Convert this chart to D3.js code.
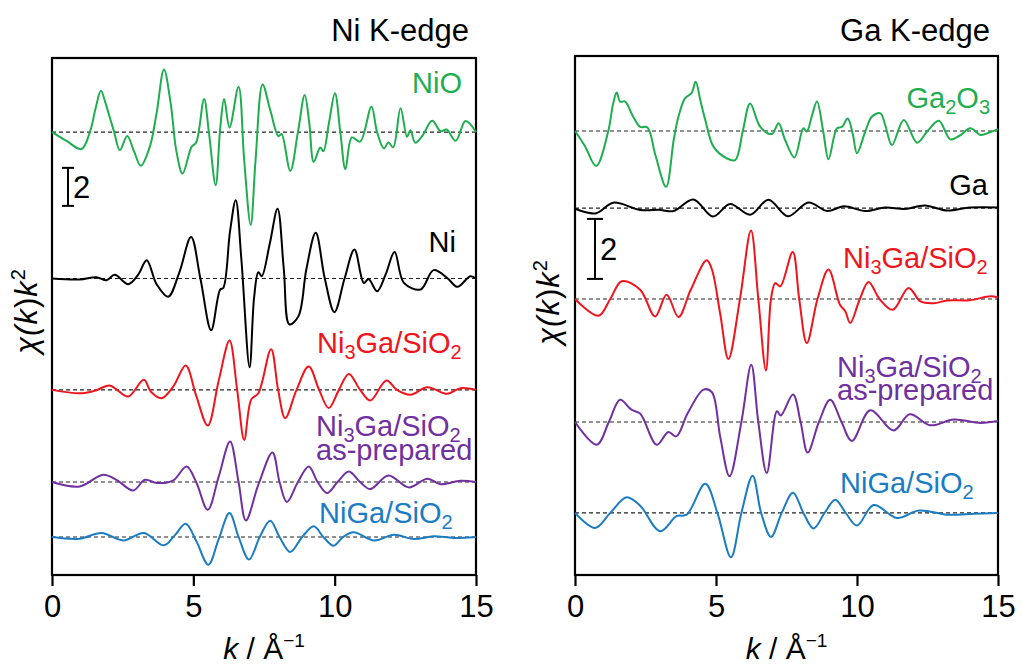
<!DOCTYPE html>
<html><head><meta charset="utf-8">
<script src="https://cdn.jsdelivr.net/npm/d3@7"></script>
<style>
html,body{margin:0;padding:0;background:#fff;}
text{font-family:"Liberation Sans",Arial,sans-serif;}
</style></head>
<body>
<svg id="chart" width="1023" height="666"></svg>
<script>
// ---------- data (k in Å^-1, value = χ(k)k², relative to each curve's baseline) ----------
const kTicks = [0, 5, 10, 15];

// Ni K-edge
const niNiO = [[0,0],[0.5,-0.45],[1.04,-0.89],[1.34,0],[1.55,1.3],[1.73,2.18],[1.9,1.5],[2.04,0.8],[2.2,0],[2.4,-0.95],[2.66,-0.21],[2.9,-1.0],[3.14,-1.77],[3.46,-0.77],[3.7,1.0],[3.96,3.3],[4.2,1.5],[4.4,-1.0],[4.62,-2.18],[4.94,-0.77],[5.1,-0.55],[5.38,1.74],[5.55,0],[5.79,-2.79],[5.95,0.2],[6.09,1.74],[6.28,0.25],[6.6,2.39],[6.8,-1.5],[7.03,-4.89],[7.2,-1.5],[7.45,2.51],[7.72,1.16],[8.01,-0.21],[8.12,-0.1],[8.43,-2.04],[8.7,0],[8.94,1.95],[9.1,0.5],[9.26,-1.56],[9.49,-0.81],[9.6,-1.0],[9.8,0.5],[10.01,2.04],[10.2,0],[10.38,-1.95],[10.61,-0.28],[10.9,-0.5],[11.3,1.33],[11.5,0],[11.74,-0.86],[11.9,-0.55],[12.07,-0.8],[12.33,1.25],[12.56,-0.24],[12.68,0.1],[12.85,-0.56],[13.1,-0.2],[13.45,0.6],[13.75,0.05],[13.96,0.14],[14.28,-0.46],[14.63,0.58],[15,0]];
const niNi = [[0,0],[0.98,-0.05],[1.57,0.07],[1.93,-0.09],[2.22,0.19],[2.7,-0.3],[3.05,0.2],[3.35,0.96],[3.7,-0.3],[4.11,-0.96],[4.5,0.3],[4.92,2.18],[5.25,0],[5.63,-2.72],[5.95,-0.58],[6.06,-0.5],[6.3,2.5],[6.5,4.12],[6.7,1],[6.99,-4.67],[7.15,-1],[7.3,0.33],[7.42,0.12],[7.7,1.8],[7.98,3.67],[8.2,0.5],[8.4,-2.42],[8.72,-1.98],[9.0,0.5],[9.33,2.4],[9.65,0.0],[9.99,-1.77],[10.35,0],[10.7,1.53],[11.03,-0.23],[11.2,-0.03],[11.5,-0.67],[11.8,0.2],[12.12,1.39],[12.45,-0.23],[13.04,-0.58],[13.5,0.44],[14.0,0.0],[14.34,-0.44],[14.8,0.12],[15,0]];
const niNi3Ga = [[0,0],[0.98,-0.18],[1.5,-0.05],[2.04,0.23],[2.3,0],[2.7,-0.35],[3.25,0.53],[3.5,-0.1],[3.88,-0.44],[4.3,0.2],[4.73,1.28],[5.1,-0.3],[5.51,-1.88],[5.9,0.5],[6.28,2.6],[6.55,0],[6.8,-2.63],[7.05,-0.5],[7.3,-0.18],[7.75,2.14],[8.0,0],[8.25,-1.49],[8.65,0],[9.08,1.23],[9.45,0],[9.79,-0.96],[10.15,0],[10.5,0.84],[10.9,0],[11.26,-0.56],[11.83,0.49],[12.2,0],[12.68,-0.26],[13.28,0.14],[13.98,-0.21],[14.45,0.09],[15,0]];
const niNi3GaAs = [[0,0],[0.98,-0.23],[1.81,0.39],[2.28,0.12],[2.87,-0.44],[3.29,0.12],[3.7,-0.05],[4.29,0.09],[4.76,0.82],[5.1,0],[5.51,-1.46],[5.9,0.3],[6.3,2.14],[6.6,0],[6.86,-2.02],[7.3,-0.14],[7.8,1.56],[8.05,0],[8.31,-1.05],[8.7,0],[9.08,0.82],[9.4,0],[9.73,-0.58],[10.1,0],[10.5,0.56],[10.9,0],[11.26,-0.37],[11.9,0.35],[12.62,-0.28],[13.28,0.18],[13.75,-0.11],[14.45,0.07],[15,0]];
const niNiGa = [[0,0],[0.98,-0.09],[1.75,0.21],[2.52,-0.18],[3.25,0.21],[3.96,-0.44],[4.35,0.1],[4.73,0.7],[5.1,-0.2],[5.53,-1.46],[5.9,-0.1],[6.28,1.26],[6.6,0],[6.97,-1.19],[7.35,0],[7.72,0.86],[8.05,0],[8.43,-0.79],[8.85,0],[9.26,0.56],[9.6,0],[9.96,-0.46],[10.3,0],[10.67,0.25],[11.4,-0.18],[12.1,0.12],[12.8,-0.11],[13.5,0.04],[14.2,-0.05],[15,0]];
const niOffsets = [23.3, 15.6, 9.74, 4.89, 2.0];

// Ga K-edge
const gaGa2O3 = [[0,0],[0.35,-0.5],[0.75,-1.17],[1.18,0],[1.35,0.9],[1.48,1.28],[1.6,0.98],[1.78,0.98],[2.05,0.5],[2.31,0.14],[2.57,0.12],[2.85,-0.8],[3.23,-1.86],[3.5,-0.3],[3.67,0.48],[3.9,1.09],[4.13,1.26],[4.28,1.64],[4.45,1.0],[4.62,0.37],[4.91,-0.52],[5.38,-0.91],[5.68,-0.97],[5.95,0],[6.21,0.92],[6.57,0.14],[6.98,-0.1],[7.22,0.26],[7.45,-0.3],[7.78,-0.88],[8.1,0.09],[8.22,-0.02],[8.4,0.5],[8.58,0.98],[8.8,0],[8.99,-0.94],[9.29,0.09],[9.47,0.14],[9.67,0.42],[9.85,-0.1],[10.0,-0.74],[10.3,0],[10.53,0.48],[10.83,0.59],[11.0,0.2],[11.24,-0.47],[11.66,0.37],[12.13,-0.39],[12.5,0.0],[12.9,0.34],[13.31,-0.28],[13.65,-0.15],[14.02,0.09],[14.38,-0.13],[14.7,-0.05],[15,0.06]];
const gaGa = [[0,-0.02],[0.75,-0.17],[1.36,0.18],[2.31,-0.06],[3.02,-0.06],[3.49,-0.1],[4.2,0.29],[4.89,-0.28],[5.5,0.14],[6.21,-0.22],[6.86,0.28],[7.55,-0.27],[8.28,0.19],[8.94,-0.1],[9.53,0.06],[10.3,-0.1],[11.0,0.02],[11.7,-0.03],[12.4,0.09],[13.2,-0.08],[14.0,0.02],[15,0.02]];
const gaNi3Ga = [[0,0],[0.83,-0.56],[1.25,0],[1.66,0.59],[2.31,0.31],[2.84,-0.58],[3.25,0.14],[3.67,-0.6],[4.1,0.3],[4.67,1.29],[4.85,1.0],[5.15,-0.5],[5.44,-2.0],[5.85,0],[6.24,2.28],[6.5,0],[6.77,-2.38],[6.95,0],[7.1,0.53],[7.28,0.42],[7.72,1.57],[7.95,0],[8.22,-1.47],[8.6,0],[8.99,0.98],[9.4,-0.2],[9.58,-0.4],[9.76,-0.8],[10.1,0],[10.41,0.57],[10.8,0],[11.27,-0.36],[11.83,0.37],[12.25,-0.08],[12.72,-0.14],[13.2,-0.05],[14.0,-0.04],[14.73,0.09],[15,0.05]];
const gaNi3GaAs = [[0,0],[0.77,-0.76],[1.2,0],[1.6,0.74],[2.0,0.41],[2.31,0.28],[2.9,-0.76],[3.31,-0.33],[3.59,-0.48],[4.0,0.3],[4.56,1.08],[4.85,1.0],[5.15,-0.5],[5.48,-1.81],[5.9,0],[6.25,1.91],[6.5,0],[6.8,-1.7],[7.16,0.36],[7.3,0.22],[7.73,0.92],[8.0,0],[8.25,-1.02],[8.65,0],[9.05,0.74],[9.45,0],[9.82,-0.63],[10.47,0.39],[11.3,-0.28],[11.87,0.26],[12.6,-0.11],[13.43,0.08],[14.38,-0.03],[15,0.03]];
const gaNiGa = [[0,0],[0.71,-0.5],[1.25,0],[1.83,0.52],[2.31,0.24],[3.02,-0.61],[3.6,-0.11],[3.96,-0.06],[4.62,0.97],[5.05,0],[5.53,-1.48],[5.9,0],[6.3,1.24],[6.6,0],[6.95,-0.8],[7.33,0],[7.73,0.67],[8.1,0],[8.46,-0.52],[8.85,0],[9.23,0.44],[9.6,0],[10.0,-0.42],[10.59,0.26],[11.42,-0.17],[12.2,0.08],[13.2,-0.06],[14.15,-0.03],[15,0]];
const gaOffsets = [14.8, 12.23, 9.2, 5.1, 2.07];

const seriesColors = ["#1fae4f", "#000000", "#f0141c", "#7030a0", "#1a7cc2"];
const niTitle = "Ni K-edge", gaTitle = "Ga K-edge";
const niYMax = 27.2, gaYMax = 17.3;
const niScaleBarBottom = 19.42, gaScaleBarBottom = 9.87, scaleBarSize = 2;

// ---------- drawing ----------
const svg = d3.select("#chart");
const FONT = 29, SUB = 20, SUBDY = 6;

function panel(cfg) {
  const g = svg.append("g");
  const x = d3.scaleLinear().domain([0, 15]).range([cfg.x0, cfg.x1]);
  const y = d3.scaleLinear().domain([0, cfg.yMax]).range([575, cfg.top]);

  // frame
  g.append("rect").attr("x", cfg.x0).attr("y", cfg.top)
    .attr("width", cfg.x1 - cfg.x0).attr("height", 575 - cfg.top)
    .attr("fill", "none").attr("stroke", "#000").attr("stroke-width", 2.2);

  // baselines
  cfg.offsets.forEach(o => {
    g.append("line").attr("x1", x(0)).attr("x2", x(15)).attr("y1", y(o)).attr("y2", y(o))
      .attr("stroke", "#222").attr("stroke-width", 1.1).attr("stroke-dasharray", "4,3");
  });

  // curves
  const line = d3.line().curve(d3.curveCatmullRom.alpha(0.5));
  cfg.series.forEach((s, i) => {
    const o = cfg.offsets[i];
    g.append("path")
      .attr("d", line(s.map(d => [x(d[0]), y(d[1] + o)])))
      .attr("fill", "none").attr("stroke", seriesColors[i]).attr("stroke-width", 2)
      .attr("stroke-linejoin", "round");
  });

  // x axis
  const ax = g.append("g").attr("transform", "translate(0,575)")
    .call(d3.axisBottom(x).tickValues(kTicks).tickFormat(d3.format("d")).tickSize(11).tickPadding(9));
  ax.select(".domain").attr("stroke-width", 2.2).attr("d", `M${cfg.x0},0H${cfg.x1}`);
  ax.selectAll(".tick line").attr("stroke-width", 2.2);
  ax.selectAll(".tick text").attr("font-size", 31).attr("fill", "#000")
    .attr("font-family", "Liberation Sans, Arial, sans-serif");

  // x label
  const xl = g.append("text").attr("x", (cfg.x0 + cfg.x1) / 2).attr("y", 659)
    .attr("text-anchor", "middle").attr("font-size", 30);
  xl.append("tspan").attr("font-style", "italic").text("k");
  xl.append("tspan").text(" / Å");
  xl.append("tspan").attr("font-size", 19).attr("dy", -12).text("\u22121");

  // y label
  const yl = g.append("text").attr("transform", `translate(${cfg.ylx},${cfg.yly}) rotate(-90)`)
    .attr("text-anchor", "middle").attr("font-size", 31).attr("letter-spacing", 1);
  yl.append("tspan").attr("font-style", "italic").text("\u03C7(");
  yl.append("tspan").attr("font-style", "italic").text("k");
  yl.append("tspan").text(")");
  yl.append("tspan").attr("font-style", "italic").text("k");
  yl.append("tspan").attr("font-size", 20).attr("dy", -12).text("2");

  // title
  g.append("text").attr("x", cfg.titleX).attr("y", 41).attr("text-anchor", "end")
    .attr("font-size", 31).text(cfg.title);

  // scale bar
  const sbx = cfg.sbX, yb = y(cfg.sbBottom), yt = y(cfg.sbBottom + scaleBarSize);
  const sb = g.append("g").attr("stroke", "#000").attr("stroke-width", 2);
  sb.append("line").attr("x1", sbx).attr("x2", sbx).attr("y1", yt).attr("y2", yb);
  sb.append("line").attr("x1", sbx - cfg.sbCap).attr("x2", sbx + cfg.sbCap).attr("y1", yt).attr("y2", yt);
  sb.append("line").attr("x1", sbx - cfg.sbCap).attr("x2", sbx + cfg.sbCap).attr("y1", yb).attr("y2", yb);
  g.append("text").attr("x", sbx + 5).attr("y", (yt + yb) / 2 + 11).attr("font-size", 31).text("2");

  // curve labels (one text element per label; lines as tspans)
  cfg.labels.forEach(L => {
    const t = g.append("text").attr("x", L.x).attr("y", L.y).attr("fill", seriesColors[L.c])
      .attr("font-size", FONT).attr("text-anchor", L.anchor || "start");
    L.lines.forEach((parts, li) => {
      let shifted = false, first = true;
      parts.forEach(p => {
        let ts;
        if (typeof p === "string") {
          ts = t.append("tspan").text(p);
          let dy = 0;
          if (shifted) { dy -= SUBDY; shifted = false; }
          if (first && li > 0) { ts.attr("x", L.x); dy += L.lineGap; }
          if (dy) ts.attr("dy", dy);
        } else {
          ts = t.append("tspan").attr("font-size", SUB).attr("dy", SUBDY).text(p.sub);
          shifted = true;
        }
        first = false;
      });
      if (shifted && li < L.lines.length - 1) L.lineGap -= SUBDY;
    });
  });
}

panel({
  x0: 52, x1: 476, top: 58, yMax: niYMax, offsets: niOffsets,
  series: [niNiO, niNi, niNi3Ga, niNi3GaAs, niNiGa],
  title: niTitle, titleX: 469, ylx: 37, yly: 311,
  sbX: 68, sbCap: 6, sbBottom: niScaleBarBottom,
  labels: [
    {c:0, x:462, y:93, anchor:"end", lines:[["NiO"]]},
    {c:1, x:456, y:252, anchor:"end", lines:[["Ni"]]},
    {c:2, x:317, y:353, lines:[["Ni",{sub:"3"},"Ga/SiO",{sub:"2"}]]},
    {c:3, x:316, y:436, lineGap:24, lines:[["Ni",{sub:"3"},"Ga/SiO",{sub:"2"}],["as-prepared"]]},
    {c:4, x:319, y:523, lines:[["NiGa/SiO",{sub:"2"}]]}
  ]
});

panel({
  x0: 575, x1: 998, top: 56, yMax: gaYMax, offsets: gaOffsets,
  series: [gaGa2O3, gaGa, gaNi3Ga, gaNi3GaAs, gaNiGa],
  title: gaTitle, titleX: 990, ylx: 559, yly: 302,
  sbX: 595, sbCap: 8, sbBottom: gaScaleBarBottom,
  labels: [
    {c:0, x:990, y:108, anchor:"end", lines:[["Ga",{sub:"2"},"O",{sub:"3"}]]},
    {c:1, x:988, y:195, anchor:"end", lines:[["Ga"]]},
    {c:2, x:843, y:268, lines:[["Ni",{sub:"3"},"Ga/SiO",{sub:"2"}]]},
    {c:3, x:837, y:377, lineGap:23, lines:[["Ni",{sub:"3"},"Ga/SiO",{sub:"2"}],["as-prepared"]]},
    {c:4, x:840, y:493, lines:[["NiGa/SiO",{sub:"2"}]]}
  ]
});
</script>
</body></html>
